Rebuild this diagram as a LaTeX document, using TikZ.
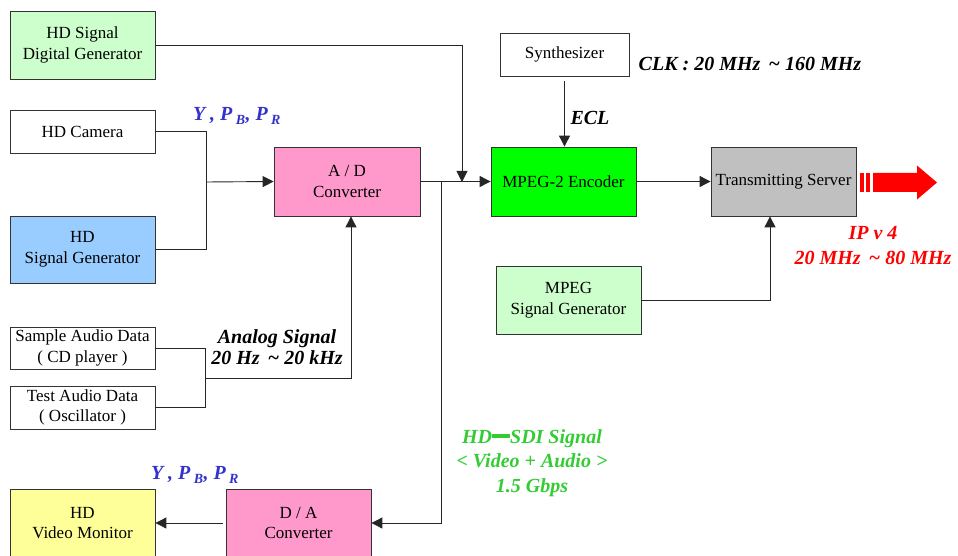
\documentclass[tikz,border=0pt]{standalone}
\usepackage{fontspec}
\setmainfont{Liberation Serif}
\usetikzlibrary{arrows.meta}
\definecolor{lgreen}{HTML}{CCFFCC}
\definecolor{lblue}{HTML}{99CCFF}
\definecolor{lpink}{HTML}{FF99CC}
\definecolor{vgreen}{HTML}{00FF00}
\definecolor{lgray}{HTML}{C0C0C0}
\definecolor{lyellow}{HTML}{FFFF99}
\definecolor{lblblue}{HTML}{3333CC}
\definecolor{lblgreen}{HTML}{33CC33}
\begin{document}
\begin{tikzpicture}[x=1pt,y=-1pt,
  box/.style={draw=black!80,line width=0.8pt,rectangle,inner sep=1pt,align=center,
    minimum width=145pt,minimum height=68pt,
    font=\fontsize{17}{20.5}\selectfont},
  conn/.style={draw=black!85,line width=0.9pt},
  arr/.style={conn,-{Triangle[length=11pt,width=11pt]}},
  lbl/.style={font=\fontsize{20}{24.5}\selectfont\bfseries\itshape,inner sep=0pt,align=center}]
\useasboundingbox (0,0) rectangle (958,556);
% boxes
\node[box,fill=lgreen] (hsdg) at (82.5,45) {HD Signal\\Digital Generator};
\node[box,minimum height=43pt] (cam) at (82.5,131.5) {HD Camera};
\node[box,fill=lblue,minimum height=67pt] (hsg) at (82.5,249.5) {HD\\Signal Generator};
\node[box,fill=lpink,minimum width=146pt,minimum height=69pt] (ad) at (347,181.5) {A / D\\Converter};
\node[box,fill=vgreen,minimum height=69pt] (enc) at (563.5,181.5) {MPEG-2 Encoder};
\node[box,minimum width=129pt,minimum height=43pt] (syn) at (564.5,54.5) {Synthesizer};
\node[box,fill=lgray,minimum height=69pt] (ts) at (783.5,181.5) {Transmitting Server};
\node[box,fill=lgreen] (msg) at (568.5,300) {MPEG\\Signal Generator};
\node[box,minimum height=42pt] (sad) at (82.5,348) {Sample Audio Data\\( CD player )};
\node[box,minimum height=43pt] (tad) at (82.5,407.5) {Test Audio Data\\( Oscillator )};
\node[box,fill=lyellow] (mon) at (82.5,523) {HD\\Video Monitor};
\node[box,fill=lpink] (da) at (298.5,523) {D / A\\Converter};
% junction coordinates
\coordinate (c1) at (462,45);
\coordinate (encin) at (462,182);
\coordinate (jv) at (206,182);
\coordinate (ja) at (205,378);
\coordinate (adin) at ([xshift=4pt]ad.south);
\coordinate (jo) at (441,182);
\coordinate (tsin) at ([xshift=-13.5pt]ts.south);
\coordinate (synout) at ([yshift=-5pt]syn.south);
\coordinate (daout) at ([xshift=-3pt]da.west);
% connectors
\draw[arr] (hsdg.east) -- (c1) -- (encin);
\draw[conn] (cam.east) -| (jv);
\draw[conn] (hsg.east) -| (jv);
\draw[arr] (jv) -- (ad.west);
\draw[arr] (ad.east) -- (enc.west);
\draw[arr] (synout) -- (synout |- enc.north);
\draw[arr] (enc.east) -- (ts.west);
\draw[arr] (msg.east) -| (tsin);
\draw[conn] (sad.east) -| (ja);
\draw[conn] (tad.east) -| (ja);
\draw[arr] (ja) -| (adin);
\draw[arr] (jo) |- (da.east);
\draw[arr] (daout) -- (mon.east);
% red output arrow
\fill[red] (859.5,173) rectangle (863.5,192);
\fill[red] (865.5,173) rectangle (869.5,192);
\fill[red] (873,173) -- (917,173) -- (917,165.5) -- (937,182.5) -- (917,199.5) -- (917,192) -- (873,192) -- cycle;
% labels
\node[lbl,text=lblblue] (l1) at (237,116) {Y , P\,\textsubscript{B}, P\,\textsubscript{R}};
\node[lbl,text=lblblue] (l2) at (195,475) {Y , P\,\textsubscript{B}, P\,\textsubscript{R}};
\node[lbl] (lclk) at (750,64) {CLK : 20 MHz \,\textasciitilde\ 160 MHz};
\node[lbl] (lecl) at (590,118) {ECL};
\node[lbl,text=red] (lip) at (873,245.5) {IP v 4\\20 MHz \,\textasciitilde\ 80 MHz};
\node[lbl,font=\fontsize{20}{21}\selectfont\bfseries\itshape] (lan) at (277,347.5) {Analog Signal\\20 Hz \,\textasciitilde\ 20 kHz};
\node[lbl,text=lblgreen] (lsdi) at (532,463)
  {HD\rule[0.28em]{0.9em}{0.2em}SDI Signal\\\textless\ Video + Audio \textgreater\\1.5 Gbps};
\end{tikzpicture}
\end{document}
